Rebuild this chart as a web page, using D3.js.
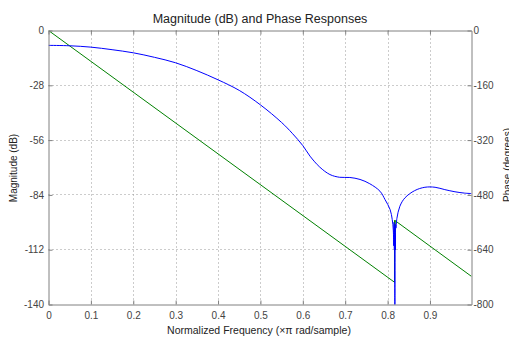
<!DOCTYPE html>
<html><head><meta charset="utf-8">
<script src="https://cdn.jsdelivr.net/npm/d3@7"></script>
<style>
html,body{margin:0;padding:0;background:#fff;overflow:hidden}
svg{display:block}
text{font-family:Arial,"Liberation Sans",sans-serif}
</style></head><body>
<svg id="c" width="509" height="339"></svg>
<script>
// ---- data ----
const freq = [0, 0.05, 0.1, 0.15, 0.2, 0.25, 0.3, 0.35, 0.4, 0.45, 0.5, 0.55, 0.575, 0.6, 0.617, 0.64, 0.664, 0.687, 0.711, 0.735, 0.758, 0.782, 0.794, 0.806, 0.811, 0.8135, 0.8145, 0.8152, 0.816, 0.8166, 0.8172, 0.8178, 0.8184, 0.819, 0.8197, 0.822, 0.829, 0.841, 0.864, 0.888, 0.912, 0.935, 0.959, 0.982, 0.998];
const magnitudeDb = [-7.6, -7.8, -8.5, -9.8, -11.4, -13.7, -16.5, -20.5, -25.2, -30.6, -38.0, -47.0, -52.5, -58.8, -64.2, -69.8, -73.6, -75.0, -75.1, -76.1, -78.3, -82.1, -86.4, -91.5, -96.6, -102, -110, -98, -112, -100, -150, -104, -112, -99, -101, -96, -89.8, -85.5, -81.8, -80.1, -80.1, -81.3, -82.4, -83.1, -83.3];
const phaseFreq = [0, 0.8163, 0.8163, 0.8167, 0.8170, 0.8173, 0.8176, 0.998];
const phaseDeg  = [0, -735, -555, -640, -555, -640, -555, -718];
const xTicks = [0, 0.1, 0.2, 0.3, 0.4, 0.5, 0.6, 0.7, 0.8, 0.9];
const magTicks = [0, -28, -56, -84, -112, -140];
const phaseTicks = [0, -160, -320, -480, -640, -800];
const titleText = "Magnitude (dB) and Phase Responses";
const xLabel = "Normalized Frequency (\u00d7\u03c0 rad/sample)";
const yLabelLeft = "Magnitude (dB)";
const yLabelRight = "Phase (degrees)";

// ---- layout ----
const L = 48.5, R = 471.5, T = 30.5, B = 304.5;
const svg = d3.select("#c");
const x = d3.scaleLinear().domain([0, 0.998]).range([L, R]);
const yM = d3.scaleLinear().domain([-140, 0]).range([B, T]);
const yP = d3.scaleLinear().domain([-800, 0]).range([B, T]);
const axisCol = "#808080", labCol = "#444";

// grid
const g = svg.append("g");
g.selectAll("line.vx").data(xTicks.filter(d => d > 0)).join("line")
  .attr("x1", d => Math.round(x(d)) + 0.5).attr("x2", d => Math.round(x(d)) + 0.5)
  .attr("y1", T).attr("y2", B)
  .attr("stroke", "#999").attr("stroke-dasharray", "1,3").attr("stroke-width", 1);
g.selectAll("line.hy").data(magTicks.filter(d => d > -140 && d < 0)).join("line")
  .attr("y1", d => Math.round(yM(d) - 0.5) + 0.5).attr("y2", d => Math.round(yM(d) - 0.5) + 0.5)
  .attr("x1", L).attr("x2", R)
  .attr("stroke", "#999").attr("stroke-dasharray", "1,3").attr("stroke-width", 1);

// clip
svg.append("clipPath").attr("id", "clip").append("rect")
  .attr("x", L).attr("y", T).attr("width", R - L).attr("height", B - T);

// curves
const magLine = d3.line().x((d, i) => x(freq[i])).y(d => yM(d)).curve(d3.curveCatmullRom.alpha(0.5));
const phLine = d3.line().x((d, i) => x(phaseFreq[i])).y(d => yP(d));
const plot = svg.append("g").attr("clip-path", "url(#clip)");
plot.append("path").attr("d", phLine(phaseDeg)).attr("fill", "none")
  .attr("stroke", "#008000").attr("stroke-width", 1);
plot.append("path").attr("d", magLine(magnitudeDb)).attr("fill", "none")
  .attr("stroke", "#0000ff").attr("stroke-width", 1);

// axes
function style(sel) {
  sel.selectAll("path.domain").attr("stroke", axisCol);
  sel.selectAll(".tick line").attr("stroke", axisCol);
  sel.selectAll(".tick text").attr("fill", labCol).attr("font-size", "10px")
    .attr("font-family", "Arial, 'Liberation Sans', sans-serif");
}
const ax1 = svg.append("g").attr("transform", `translate(0,${B})`)
  .call(d3.axisBottom(x).tickValues(xTicks).tickFormat(d3.format("")).tickSizeInner(-4).tickSizeOuter(0).tickPadding(7.5));
style(ax1);
const ax2 = svg.append("g").attr("transform", `translate(0,${T})`)
  .call(d3.axisTop(x).tickValues(xTicks).tickFormat("").tickSizeInner(-4).tickSizeOuter(0));
style(ax2);
const ax3 = svg.append("g").attr("transform", `translate(${L},0)`)
  .call(d3.axisLeft(yM).tickValues(magTicks).tickFormat(d3.format("")).tickSizeInner(-4).tickSizeOuter(0).tickPadding(4.5));
style(ax3);
const ax4 = svg.append("g").attr("transform", `translate(${R},0)`)
  .call(d3.axisRight(yP).tickValues(phaseTicks).tickFormat(d3.format("")).tickSizeInner(-4).tickSizeOuter(0).tickPadding(2));
style(ax4);
svg.selectAll(".tick text").text(function(){ return this.textContent.replace("\u2212", "-"); });

// labels
svg.append("text").attr("x", 260).attr("y", 23).attr("text-anchor", "middle")
  .attr("font-size", "12.5px").attr("fill", "#222").text(titleText);
svg.append("text").attr("x", 259).attr("y", 334).attr("text-anchor", "middle")
  .attr("font-size", "10.5px").attr("fill", "#222").text(xLabel);
svg.append("text").attr("transform", "translate(16.5,168) rotate(-90)").attr("text-anchor", "middle")
  .attr("font-size", "10px").attr("fill", "#222").text(yLabelLeft);
svg.append("text").attr("transform", "translate(511,165) rotate(-90)").attr("text-anchor", "middle")
  .attr("font-size", "10px").attr("fill", "#222").text(yLabelRight);
</script>
</body></html>
